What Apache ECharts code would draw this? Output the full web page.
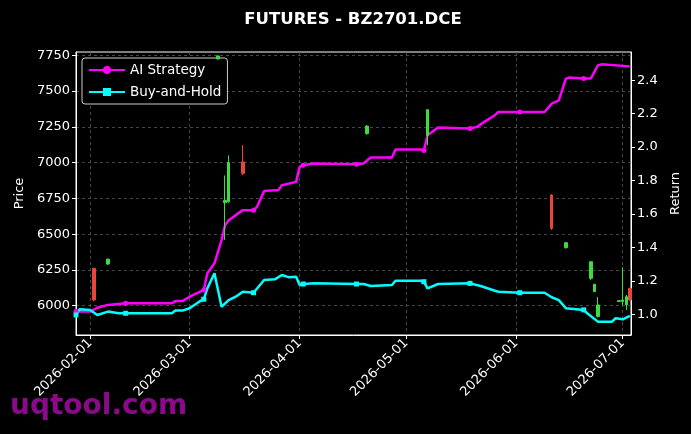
<!DOCTYPE html>
<html><head><meta charset="utf-8">
<script src="https://cdn.jsdelivr.net/npm/echarts@6/dist/echarts.min.js"></script>
<style>html,body{margin:0;padding:0;background:#000}#c{width:691px;height:434px}</style>
</head><body><div id="c"></div>
<script>
// ---- data ----
const aiDates = ['2026-01-28','2026-02-01','2026-02-03','2026-02-06','2026-02-11','2026-02-24','2026-02-25','2026-02-27',
  '2026-03-01','2026-03-04','2026-03-05','2026-03-06','2026-03-08','2026-03-10','2026-03-11','2026-03-12','2026-03-16',
  '2026-03-19','2026-03-20','2026-03-22','2026-03-26','2026-03-27','2026-03-31','2026-04-01','2026-04-02','2026-04-05',
  '2026-04-17','2026-04-19','2026-04-21','2026-04-27','2026-04-28','2026-05-05','2026-05-06','2026-05-07','2026-05-10',
  '2026-05-19','2026-05-21','2026-05-23','2026-05-26','2026-05-27','2026-06-02','2026-06-09','2026-06-11','2026-06-13',
  '2026-06-15','2026-06-16','2026-06-20','2026-06-22','2026-06-24','2026-06-25','2026-07-03'];
const aiValues = [1.016,1.016,1.039,1.056,1.066,1.066,1.079,1.079,
  1.105,1.135,1.145,1.245,1.305,1.444,1.533,1.563,1.623,
  1.623,1.643,1.738,1.743,1.772,1.792,1.882,1.892,1.902,
  1.898,1.902,1.938,1.938,1.986,1.986,1.980,2.071,2.117,
  2.111,2.121,2.151,2.191,2.210,2.210,2.210,2.260,2.280,
  2.410,2.416,2.410,2.410,2.489,2.495,2.483];
const bhDates = ['2026-01-28','2026-01-29','2026-02-01','2026-02-03','2026-02-06','2026-02-09','2026-02-11','2026-02-24',
  '2026-02-25','2026-02-27','2026-03-01','2026-03-04','2026-03-05','2026-03-06','2026-03-08','2026-03-10','2026-03-12',
  '2026-03-14','2026-03-16','2026-03-19','2026-03-22','2026-03-25','2026-03-27','2026-03-29','2026-03-31','2026-04-01',
  '2026-04-02','2026-04-05','2026-04-17','2026-04-19','2026-04-21','2026-04-27','2026-04-28','2026-05-05','2026-05-06',
  '2026-05-07','2026-05-10','2026-05-19','2026-05-22','2026-05-26','2026-05-27','2026-06-02','2026-06-09','2026-06-11',
  '2026-06-13','2026-06-15','2026-06-20','2026-06-21','2026-06-24','2026-06-28','2026-06-29','2026-07-01','2026-07-03'];
const bhValues = [0.996,1.030,1.026,0.996,1.016,1.006,1.006,1.006,
  1.022,1.022,1.036,1.079,1.090,1.155,1.245,1.045,1.085,
  1.105,1.135,1.129,1.205,1.209,1.235,1.221,1.225,1.175,
  1.181,1.185,1.181,1.181,1.169,1.175,1.201,1.201,1.195,
  1.155,1.181,1.185,1.169,1.141,1.135,1.129,1.129,1.102,
  1.085,1.036,1.026,1.006,0.956,0.956,0.976,0.970,0.990];
const markerDates = ['2026-01-28','2026-02-11','2026-03-05','2026-03-19','2026-04-02','2026-04-17','2026-05-06',
  '2026-05-19','2026-06-02','2026-06-20'];
const candleDates = ['2026-02-02','2026-02-06','2026-03-09','2026-03-11','2026-03-12','2026-03-16','2026-04-20',
  '2026-05-07','2026-06-11','2026-06-15','2026-06-22','2026-06-23','2026-06-24','2026-06-30','2026-07-01','2026-07-02','2026-07-03'];
const candleOpen  = [6261,6291,7725,6720,6726,7005,7203,7190,6773,6405,6191,6098,5925,6030,6030,6005,6121];
const candleClose = [6040,6325,7745,6735,7000,6925,7255,7370,6540,6440,6307,6150,6005,6035,6040,6063,6040];
const candleLow   = [6030,6285,7720,6460,6720,6912,7195,7122,6530,6400,6180,6095,5918,6025,6005,5970,6035];
const candleHigh  = [6265,6330,7748,6910,7050,7122,7262,7372,6780,6445,6310,6152,6060,6040,6268,6075,6125];
const priceTicks = [6000,6250,6500,6750,7000,7250,7500,7750];
const returnTicks = [1.0,1.2,1.4,1.6,1.8,2.0,2.2,2.4];
const monthTicks = ['2026-02-01','2026-03-01','2026-04-01','2026-05-01','2026-06-01','2026-07-01'];

// ---- helpers ----
const ts = s => { const p = s.split('-').map(Number); return new Date(p[0], p[1]-1, p[2]).getTime(); };
const pad = n => (n < 10 ? '0' : '') + n;
const fmtDate = v => { const d = new Date(v); return d.getFullYear() + '-' + pad(d.getMonth()+1) + '-' + pad(d.getDate()); };
const markerSet = new Set(markerDates);
const lineData = (dates, vals) => dates.map((d, i) => markerSet.has(d)
  ? { value: [ts(d), vals[i]] }
  : { value: [ts(d), vals[i]], symbol: 'none' });
const candleData = candleDates.map((d, i) => [ts(d), candleOpen[i], candleClose[i], candleLow[i], candleHigh[i]]);
const monthTs = monthTicks.map(ts);

const FONT = 'DejaVu Sans';
const GRIDLINE = { show: true, lineStyle: { color: '#585858', type: [3, 3], width: 0.8 } };
const chart = echarts.init(document.getElementById('c'), null, { renderer: 'canvas' });
chart.setOption({
  backgroundColor: '#000',
  animation: false,
  textStyle: { fontFamily: FONT },
  title: {
    text: 'FUTURES - BZ2701.DCE', left: 348, top: 6, textAlign: 'center',
    textStyle: { color: '#fff', fontSize: 16.5, fontWeight: 'bold', fontFamily: FONT }
  },
  grid: { left: 76, right: 60, top: 52, bottom: 99, show: true, borderColor: '#fff', borderWidth: 1, backgroundColor: 'transparent' },
  legend: {
    data: ['AI Strategy', 'Buy-and-Hold'], orient: 'vertical', left: 82, top: 58,
    backgroundColor: '#000', borderColor: '#ccc', borderWidth: 1, borderRadius: 3,
    padding: [5, 6, 5, 6], itemGap: 8, itemWidth: 36, itemHeight: 10,
    textStyle: { color: '#fff', fontSize: 13.5, fontFamily: FONT }
  },
  xAxis: {
    type: 'value', min: ts('2026-01-28'), max: ts('2026-07-03') + 8 * 3600 * 1000, scale: true,
    axisLine: { show: true, lineStyle: { color: '#fff' } },
    axisTick: { show: true, length: 4, lineStyle: { color: '#fff' }, customValues: monthTs },
    axisLabel: { color: '#fff', fontSize: 13, rotate: 45, margin: 6, fontFamily: FONT, customValues: monthTs, formatter: v => fmtDate(v), hideOverlap: false },
    splitLine: GRIDLINE
  },
  yAxis: [{
    type: 'value', min: 5795, max: 7773, position: 'left',
    name: 'Price', nameLocation: 'middle', nameGap: 50, nameRotate: 90,
    nameTextStyle: { color: '#fff', fontSize: 13, fontFamily: FONT },
    axisLine: { show: true, lineStyle: { color: '#fff' } },
    axisTick: { show: true, length: 4, lineStyle: { color: '#fff' }, customValues: priceTicks },
    axisLabel: { color: '#fff', fontSize: 13, margin: 6, fontFamily: FONT, customValues: priceTicks, formatter: v => String(v) },
    splitLine: GRIDLINE
  }, {
    type: 'value', min: 0.876, max: 2.569, position: 'right',
    name: 'Return', nameLocation: 'middle', nameGap: 38, nameRotate: 90,
    nameTextStyle: { color: '#fff', fontSize: 13, fontFamily: FONT },
    axisLine: { show: true, lineStyle: { color: '#fff' } },
    axisTick: { show: true, length: 4, lineStyle: { color: '#fff' }, customValues: returnTicks },
    axisLabel: { color: '#fff', fontSize: 13, margin: 6, fontFamily: FONT, customValues: returnTicks, formatter: v => v.toFixed(1) },
    splitLine: { show: false }
  }],
  series: [{
    name: 'Price', type: 'candlestick', yAxisIndex: 0, barWidth: 3, z: 4,
    itemStyle: { color: '#3fdc3f', color0: '#e8453c', borderColor: '#3fdc3f', borderColor0: '#e8453c', borderWidth: 1 },
    data: candleData
  }, {
    name: 'AI Strategy', type: 'line', yAxisIndex: 1, z: 3,
    symbol: 'circle', symbolSize: 5, showSymbol: true,
    lineStyle: { color: '#ff00ff', width: 2.5 }, itemStyle: { color: '#ff00ff' },
    data: lineData(aiDates, aiValues)
  }, {
    name: 'Buy-and-Hold', type: 'line', yAxisIndex: 1, z: 3,
    symbol: 'rect', symbolSize: 5, showSymbol: true,
    lineStyle: { color: '#00ffff', width: 2.5 }, itemStyle: { color: '#00ffff' },
    data: lineData(bhDates, bhValues)
  }],
  graphic: [{
    type: 'text', left: 10, top: 393, z: 100,
    style: { text: 'uqtool.com', fill: '#8b0a8b', font: 'bold 28px "DejaVu Sans"' }
  }]
});
</script></body></html>
